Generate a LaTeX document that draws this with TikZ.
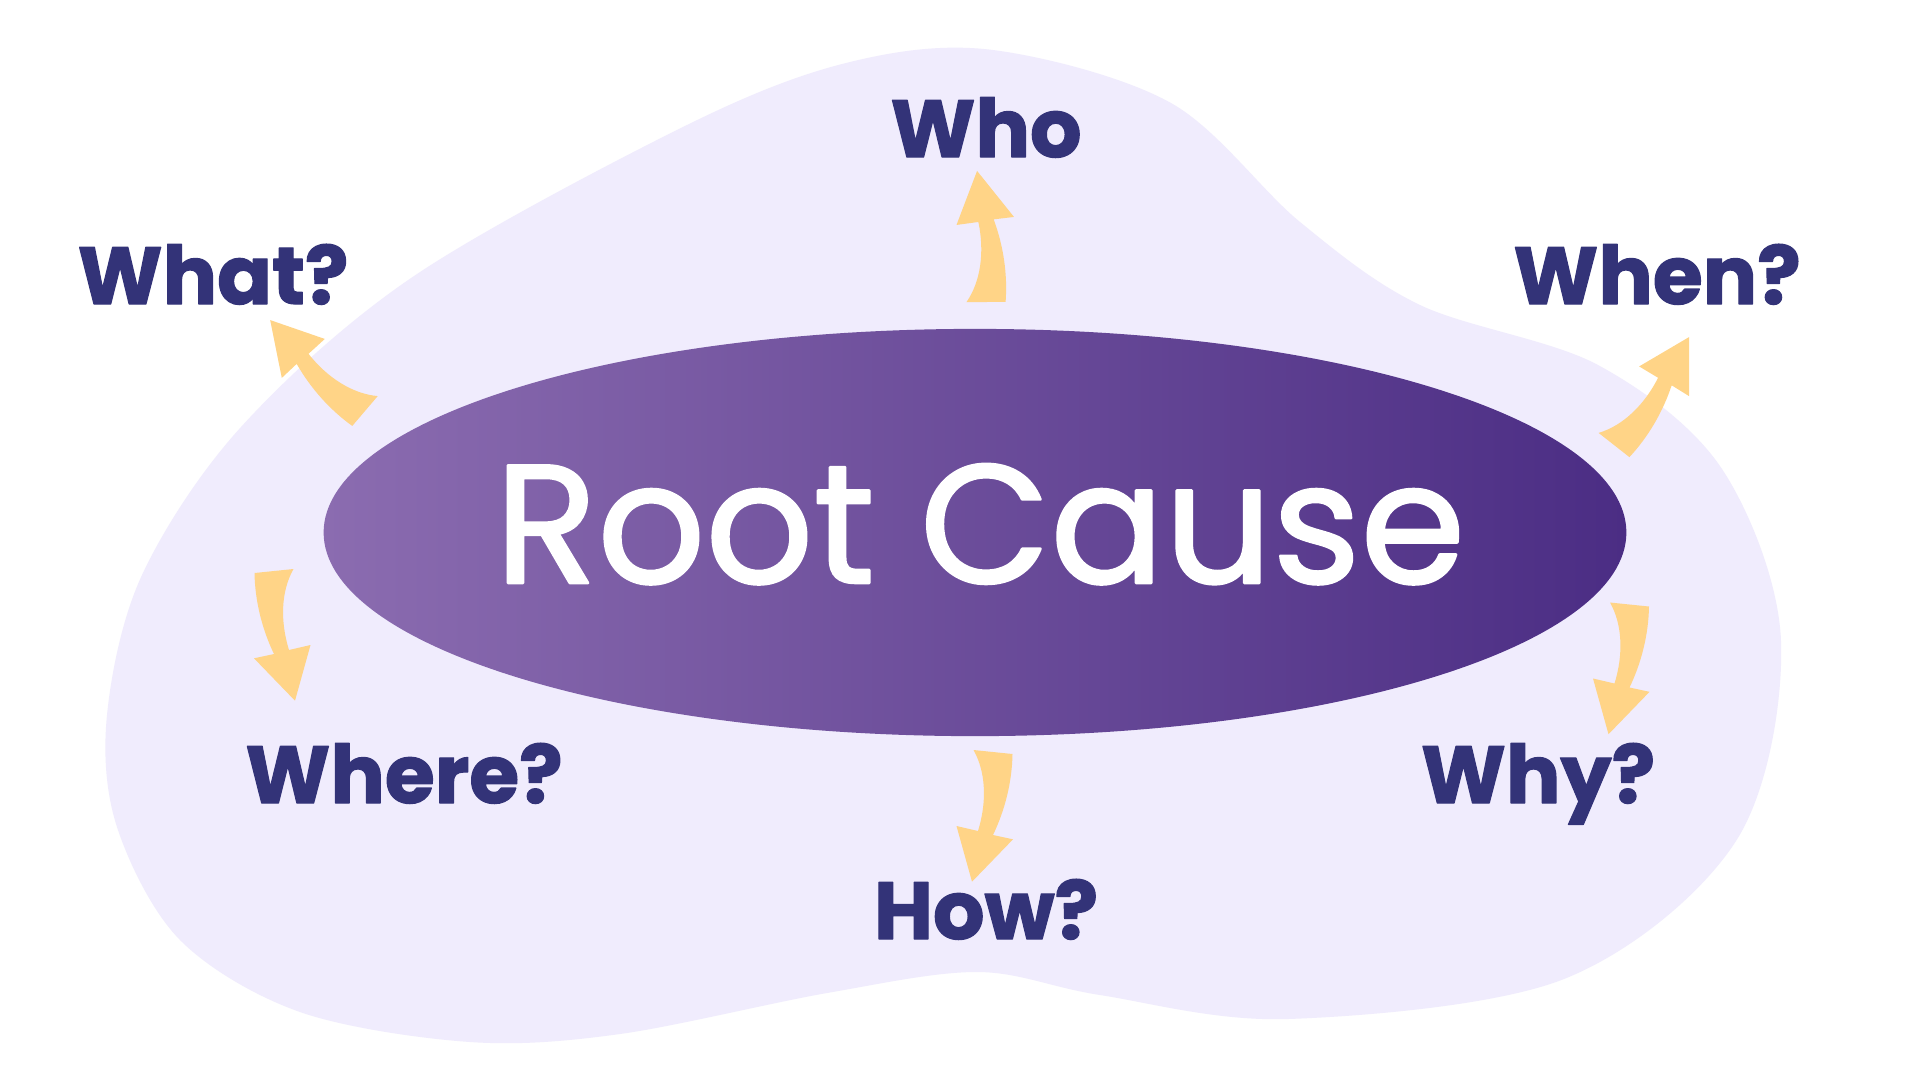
\documentclass[tikz,border=0pt]{standalone}
\usepackage{fontspec}
\setmainfont{Poppins}
\newfontfamily\rcfont[FakeBold=1.5]{Poppins}
\newfontfamily\qfont[FakeBold=1.5]{Poppins}
\usetikzlibrary{shapes.geometric}
\definecolor{blobcol}{RGB}{240,236,253}
\definecolor{navy}{RGB}{51,51,120}
\definecolor{gold}{RGB}{255,212,135}
\definecolor{plight}{RGB}{139,108,176}
\definecolor{pdark}{RGB}{75,45,132}
\tikzset{
	qlabel/.style={text=navy, font=\qfont\fontsize{23}{23}\selectfont\bfseries, inner sep=0pt, anchor=base},
	qarrow/.pic={
		\fill[gold] (-19.5,-2) .. controls (-7,20) and (-6,50) .. (-15,79) -- (-36.5,74) -- (-21,129.7) -- (20,87.3) -- (0,83) .. controls (12,58) and (19,30) .. (19.5,2) -- cycle;
	}
}
\begin{document}
\begin{tikzpicture}[x=0.01cm, y=-0.01cm, line join=round, line cap=round]
			%Khung hình.
			\fill[white] (0,0) rectangle (1921,1081);
			\useasboundingbox (0,0) rectangle (1921,1081);
			%Nền.
			\fill[blobcol] plot[smooth cycle, tension=0.55] coordinates {(993,50) (1171,103) (1300,222) (1420,305) (1598,365) (1722,469) (1781,641) (1736,841) (1564,979) (1288,1019) (1100,995) (978,972) (827,993) (620,1034) (470,1042) (300,1012) (180,940) (117,827) (107,715) (142,575) (241,427) (414,276) (689,124) (850,62)};
			%Hình elip.
			\node[ellipse, minimum width=13.02cm, minimum height=4.07cm, inner sep=0pt, left color=plight, right color=pdark] (root) at (975,532.5) {};
			\node[text=white, font=\rcfont\fontsize{48}{48}\selectfont, inner sep=0pt, anchor=base] (rc) at (980,583) {Root Cause};
			%Câu hỏi.
			\node[qlabel] (who) at (986,157) {Who};
			\node[qlabel] (what) at (213,304) {What?};
			\node[qlabel] (when) at (1657,304) {When?};
			\node[qlabel] (where) at (404,803) {Where?};
			\node[qlabel] (why) at (1538,803) {Why?};
			\node[qlabel] (how) at (986,939) {How?};
			%Mũi tên.
			\coordinate (aWho) at (986,302);
			\coordinate (aWhat) at (365,411);
			\coordinate (aWhen) at (1614,445);
			\coordinate (aWhere) at (274,571);
			\coordinate (aWhy) at (1629.5,604.5);
			\coordinate (aHow) at (993,752);
			\pic[rotate=174.7, xscale=-1] at (aWho) {qarrow};
			\pic[rotate=-124.6] at (aWhat) {qarrow};
			\pic[rotate=136, xscale=-1] at (aWhen) {qarrow};
			\pic[xscale=-1] at (aWhere) {qarrow};
			\pic at (aWhy) {qarrow};
			\pic at (aHow) {qarrow};
		\end{tikzpicture}
\end{document}
